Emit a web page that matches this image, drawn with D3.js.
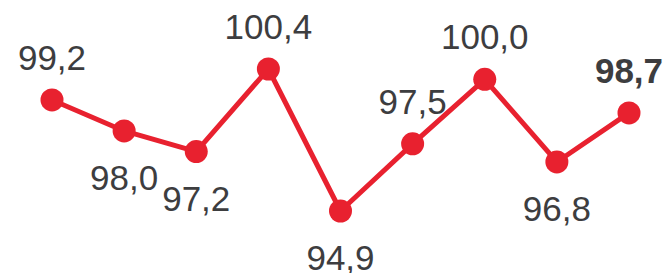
<!DOCTYPE html>
<html><head><meta charset="utf-8">
<script src="https://cdn.jsdelivr.net/npm/d3@7"></script>
<style>body{margin:0;background:#fff}svg{display:block}</style>
</head><body>
<svg id="c" width="667" height="273"></svg>
<script>
const categories = [1,2,3,4,5,6,7,8,9];
const values = [99.2, 98.0, 97.2, 100.4, 94.9, 97.5, 100.0, 96.8, 98.7];
const labels = ["99,2","98,0","97,2","100,4","94,9","97,5","100,0","96,8","98,7"];
const labelPos = ["above","below","below","above","below","above","above","below","above"];

const svg = d3.select("#c");
const x = d3.scalePoint().domain(categories).range([52, 629]);
const y = d3.scaleLinear().domain([94.9, 100.4]).range([211, 69]);
const red = "#e8212f";

svg.append("path")
  .datum(values)
  .attr("fill","none").attr("stroke",red).attr("stroke-width",5)
  .attr("stroke-linejoin","round")
  .attr("d", d3.line().x((d,i)=>x(categories[i])).y(d=>y(d)));

svg.selectAll("circle").data(values).join("circle")
  .attr("cx",(d,i)=>x(categories[i])).attr("cy",d=>y(d)).attr("r",11.5).attr("fill",red);

svg.selectAll("text").data(values).join("text")
  .attr("x",(d,i)=>x(categories[i]))
  .attr("y",(d,i)=> labelPos[i]==="above" ? y(d)-30 : y(d)+59)
  .attr("text-anchor","middle")
  .attr("font-family","Liberation Sans, Arial, sans-serif")
  .attr("font-size",35)
  .attr("font-weight",(d,i)=> i===values.length-1 ? "bold" : "normal")
  .attr("fill","#3d3d3f")
  .text((d,i)=>labels[i]);
</script>
</body></html>
